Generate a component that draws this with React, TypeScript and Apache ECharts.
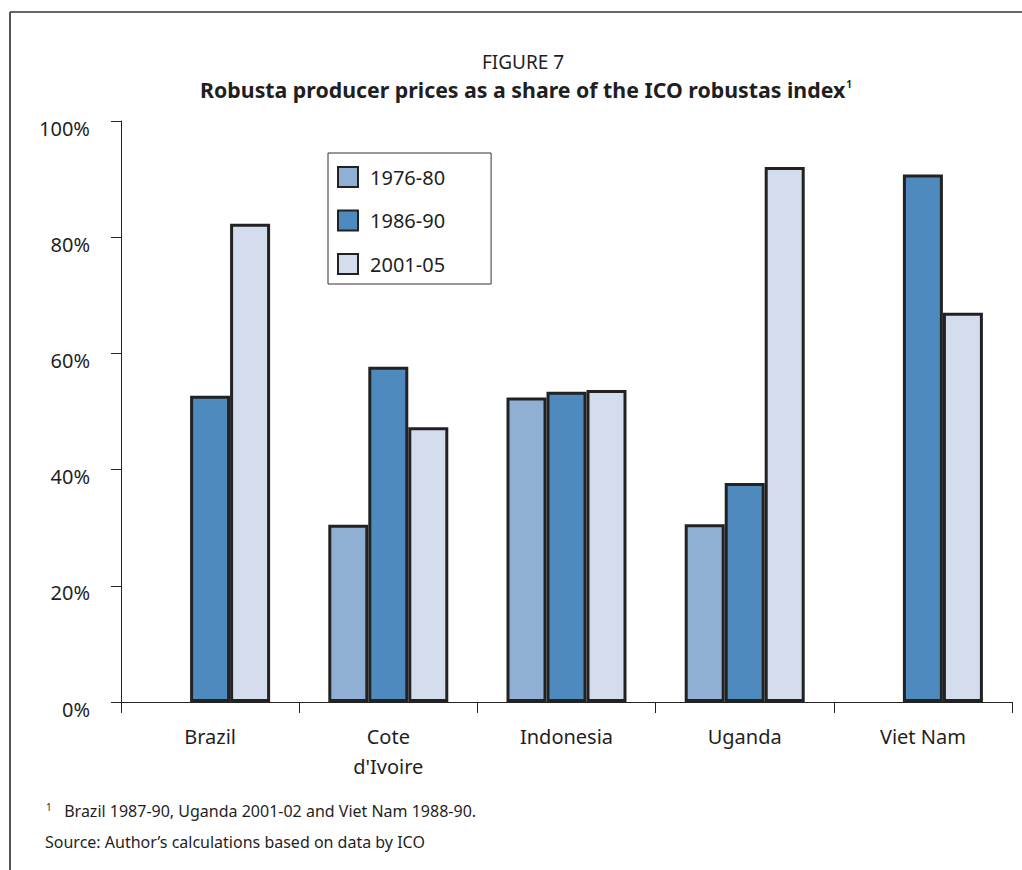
import React, { useEffect, useRef } from "react";
import * as echarts from "echarts";

// Countries on the category axis
const countries = ["Brazil", "Cote\nd'Ivoire", "Indonesia", "Uganda", "Viet Nam"];

// Producer price as % of the ICO robustas index, per period
const period1976 = [null, 30.5, 52.4, 30.6, null];
const period1986 = [52.7, 57.7, 53.4, 37.7, 90.8];
const period2001 = [82.3, 47.3, 53.7, 92.1, 67.0];

const seriesNames = ["1976-80", "1986-90", "2001-05"];
const seriesColors = ["#90AFD5", "#4E8ABE", "#D4DDEE"];

const yTicks = [0, 20, 40, 60, 80, 100];

const FONT = "'Noto Sans', 'Open Sans', sans-serif";
const INK = "#1f1f1f";

export default function App() {
  const ref = useRef<HTMLDivElement>(null);

  useEffect(() => {
    if (!ref.current) return;
    const chart = echarts.init(ref.current, undefined, { renderer: "svg" });

    const values = [period1976, period1986, period2001];

    chart.setOption({
      animation: false,
      backgroundColor: "#ffffff",
      textStyle: { fontFamily: FONT, color: INK },
      grid: { left: 121, right: 10, top: 121, bottom: 168, containLabel: false },
      legend: {
        orient: "vertical",
        left: 328,
        top: 153,
        data: seriesNames,
        borderColor: "#333",
        borderWidth: 1,
        padding: [13, 46, 9, 9],
        itemWidth: 20,
        itemHeight: 20,
        itemGap: 21.5,
        icon: "rect",
        textStyle: {
          fontSize: 20,
          lineHeight: 20,
          color: INK,
          fontFamily: FONT,
          padding: [0, 0, 0, 7],
        },
      },
      xAxis: {
        type: "category",
        data: countries,
        axisLine: { lineStyle: { color: "#222", width: 1 } },
        axisTick: { show: true, length: 11, lineStyle: { color: "#222" } },
        axisLabel: {
          fontSize: 20,
          color: INK,
          fontFamily: FONT,
          margin: 19,
          lineHeight: 30,
          interval: 0,
        },
      },
      yAxis: {
        type: "value",
        min: yTicks[0],
        max: yTicks[yTicks.length - 1],
        interval: 20,
        axisLine: { show: true, lineStyle: { color: "#222", width: 1 } },
        axisTick: { show: true, length: 10, lineStyle: { color: "#222" } },
        splitLine: { show: false },
        axisLabel: {
          fontSize: 20,
          color: INK,
          fontFamily: FONT,
          margin: 31,
          verticalAlign: "top",
          lineHeight: 14,
          formatter: (v: number) => `${v}%`,
        },
      },
      series: seriesNames.map((name, i) => ({
        name,
        type: "bar",
        data: values[i],
        barWidth: 40,
        barGap: "0%",
        itemStyle: {
          color: seriesColors[i],
          borderColor: "#222",
          borderWidth: 3,
        },
      })),
      graphic: [
        // frame lines
        {
          type: "line",
          shape: { x1: 10, y1: 12, x2: 1022, y2: 12 },
          style: { stroke: "#333", lineWidth: 1.5 },
        },
        {
          type: "line",
          shape: { x1: 10, y1: 12, x2: 10, y2: 870 },
          style: { stroke: "#555", lineWidth: 2 },
        },
        {
          type: "text",
          x: 523,
          y: 61.5,
          style: {
            text: "FIGURE 7",
            fontSize: 19,
            lineHeight: 18,
            fontFamily: FONT,
            fill: INK,
            align: "center",
            verticalAlign: "middle",
          },
        },
        {
          type: "text",
          x: 526,
          y: 89,
          style: {
            text: "{b|Robusta producer prices as a share of the ICO robustas index}{s|1}",
            align: "center",
            verticalAlign: "middle",
            rich: {
              b: { fontSize: 21.3, lineHeight: 20, fontWeight: "bold", fontFamily: FONT, fill: INK },
              s: {
                fontSize: 10,
                lineHeight: 10,
                fontWeight: "bold",
                fontFamily: FONT,
                fill: INK,
                verticalAlign: "top",
                padding: [0, 0, 8, 1],
              },
            },
          },
        },
        {
          type: "text",
          x: 46,
          y: 811,
          style: {
            text: "{s|1}{t|   Brazil 1987-90, Uganda 2001-02 and Viet Nam 1988-90.}",
            align: "left",
            verticalAlign: "middle",
            rich: {
              s: { fontSize: 10, fontFamily: FONT, fill: INK, padding: [0, 0, 8, 0] },
              t: { fontSize: 16, fontFamily: FONT, fill: INK },
            },
          },
        },
        {
          type: "text",
          x: 45,
          y: 842,
          style: {
            text: "Source: Author\u2019s calculations based on data by ICO",
            fontSize: 16,
            fontFamily: FONT,
            fill: INK,
            align: "left",
            verticalAlign: "middle",
          },
        },
      ],
    });

    return () => chart.dispose();
  }, []);

  return (
    <div
      ref={ref}
      style={{ position: "absolute", left: 0, top: 0, width: 1022, height: 870 }}
    />
  );
}
